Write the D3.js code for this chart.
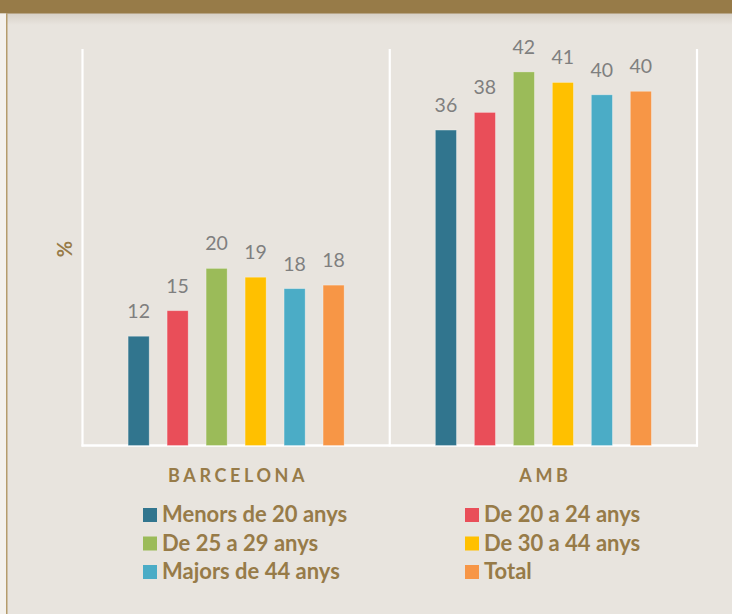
<!DOCTYPE html>
<html>
<head>
<meta charset="utf-8">
<script src="https://cdn.jsdelivr.net/npm/d3@7"></script>
<style>
  body { margin: 0; background: #e8e4de; }
  svg { display: block; }
</style>
</head>
<body>
<div id="chart"></div>
<script>
// data (labels show the rounded values)
var groups = ["BARCELONA", "AMB"];
var series = ["Menors de 20 anys", "De 20 a 24 anys", "De 25 a 29 anys", "De 30 a 44 anys", "Majors de 44 anys", "Total"];
var barcelona = [12.4, 15.3, 20.1, 19.1, 17.8, 18.2];
var amb = [35.8, 37.8, 42.4, 41.2, 39.8, 40.2];
var colors = ["#31758e", "#e94e59", "#9bbb59", "#ffc000", "#4bacc6", "#f79646"];

var W = 732, H = 614;
var brown = "#977b48";

var svg = d3.select("#chart")
    .append("svg")
    .attr("width", W)
    .attr("height", H);

// background + header band
svg.append("rect").attr("width", W).attr("height", H).attr("fill", "#e8e4de");

var grad = svg.append("defs").append("linearGradient")
    .attr("id", "shade").attr("x1", 0).attr("y1", 0).attr("x2", 0).attr("y2", 1);
grad.append("stop").attr("offset", "0%").attr("stop-color", "#d6d0c6");
grad.append("stop").attr("offset", "100%").attr("stop-color", "#e8e4de");

svg.append("rect").attr("x", 0).attr("y", 13).attr("width", W).attr("height", 12).attr("fill", "url(#shade)");
svg.append("rect").attr("x", 0).attr("y", 0).attr("width", W).attr("height", 13.5).attr("fill", brown);
svg.append("rect").attr("x", 0).attr("y", 13.5).attr("width", 6).attr("height", H).attr("fill", "#f4f1ec");
svg.append("rect").attr("x", 6).attr("y", 13.5).attr("width", 1.5).attr("height", H).attr("fill", "#b59c6c");

// scales
var x0 = d3.scaleBand()
    .domain(groups)
    .range([82.5, 697])
    .padding(0);

var x1 = d3.scaleBand()
    .domain(series)
    .range([0, x0.bandwidth()])
    .paddingInner(0.46)
    .paddingOuter(1.17);

var y = d3.scaleLinear()
    .domain([0, 45])
    .range([445.5, 49]);

var rows = [barcelona, amb];

// separators / frame lines
var edges = groups.map(g => x0(g)).concat([x0(groups[groups.length - 1]) + x0.bandwidth()]);
svg.selectAll(".sep")
    .data(edges)
    .enter()
    .append("line")
    .attr("x1", d => d).attr("x2", d => d)
    .attr("y1", y(45)).attr("y2", y(0) + 1)
    .attr("stroke", "#fff")
    .attr("stroke-width", 2.2);

svg.append("line")
    .attr("x1", edges[0] - 1).attr("x2", edges[edges.length - 1] + 1)
    .attr("y1", y(0)).attr("y2", y(0))
    .attr("stroke", "#fff")
    .attr("stroke-width", 2.4);

// bars
groups.forEach(function(g, gi) {
    var gEl = svg.append("g").attr("transform", `translate(${x0(g)},0)`);

    gEl.selectAll("rect")
        .data(rows[gi])
        .enter()
        .append("rect")
        .attr("x", (d, i) => x1(series[i]))
        .attr("width", x1.bandwidth())
        .attr("y", d => y(d))
        .attr("height", d => y(0) - y(d))
        .attr("fill", (d, i) => colors[i])
        .attr("stroke", "rgba(255,255,255,0.35)")
        .attr("stroke-width", 0.8);

    gEl.selectAll("text")
        .data(rows[gi])
        .enter()
        .append("text")
        .attr("x", (d, i) => x1(series[i]) + x1.bandwidth() / 2)
        .attr("y", d => y(d) - 18)
        .attr("text-anchor", "middle")
        .style("font-family", "Lato, 'Open Sans', sans-serif")
        .style("font-size", "19.5px")
        .attr("fill", "#7f7f7f")
        .text(d => Math.round(d));

    // category label
    svg.append("text")
        .attr("x", x0(g) + x0.bandwidth() / 2 + 2)
        .attr("y", 482)
        .attr("text-anchor", "middle")
        .style("font-family", "Lato, 'Open Sans', sans-serif")
        .style("font-size", "18px")
        .style("font-weight", "bold")
        .style("letter-spacing", "3.6px")
        .attr("fill", brown)
        .text(g);
});

// y axis title
svg.append("text")
    .attr("transform", "translate(72,249) rotate(-90)")
    .attr("text-anchor", "middle")
    .style("font-family", "Lato, 'Open Sans', sans-serif")
    .style("font-size", "20px")
    .style("font-weight", "bold")
    .attr("fill", brown)
    .text("%");

// legend, two columns
var legend = svg.append("g");
var items = legend.selectAll("g")
    .data(series)
    .enter()
    .append("g")
    .attr("transform", (d, i) => `translate(${i % 2 === 0 ? 143 : 465},${508 + Math.floor(i / 2) * 28.5})`);

items.append("rect")
    .attr("width", 14)
    .attr("height", 14)
    .attr("fill", (d, i) => colors[i]);

items.append("text")
    .attr("x", 19)
    .attr("y", 14)
    .style("font-family", "Lato, 'Open Sans', sans-serif")
    .style("font-size", "22px")
    .style("font-weight", "bold")
    .attr("fill", brown)
    .text(d => d);
</script>
</body>
</html>
